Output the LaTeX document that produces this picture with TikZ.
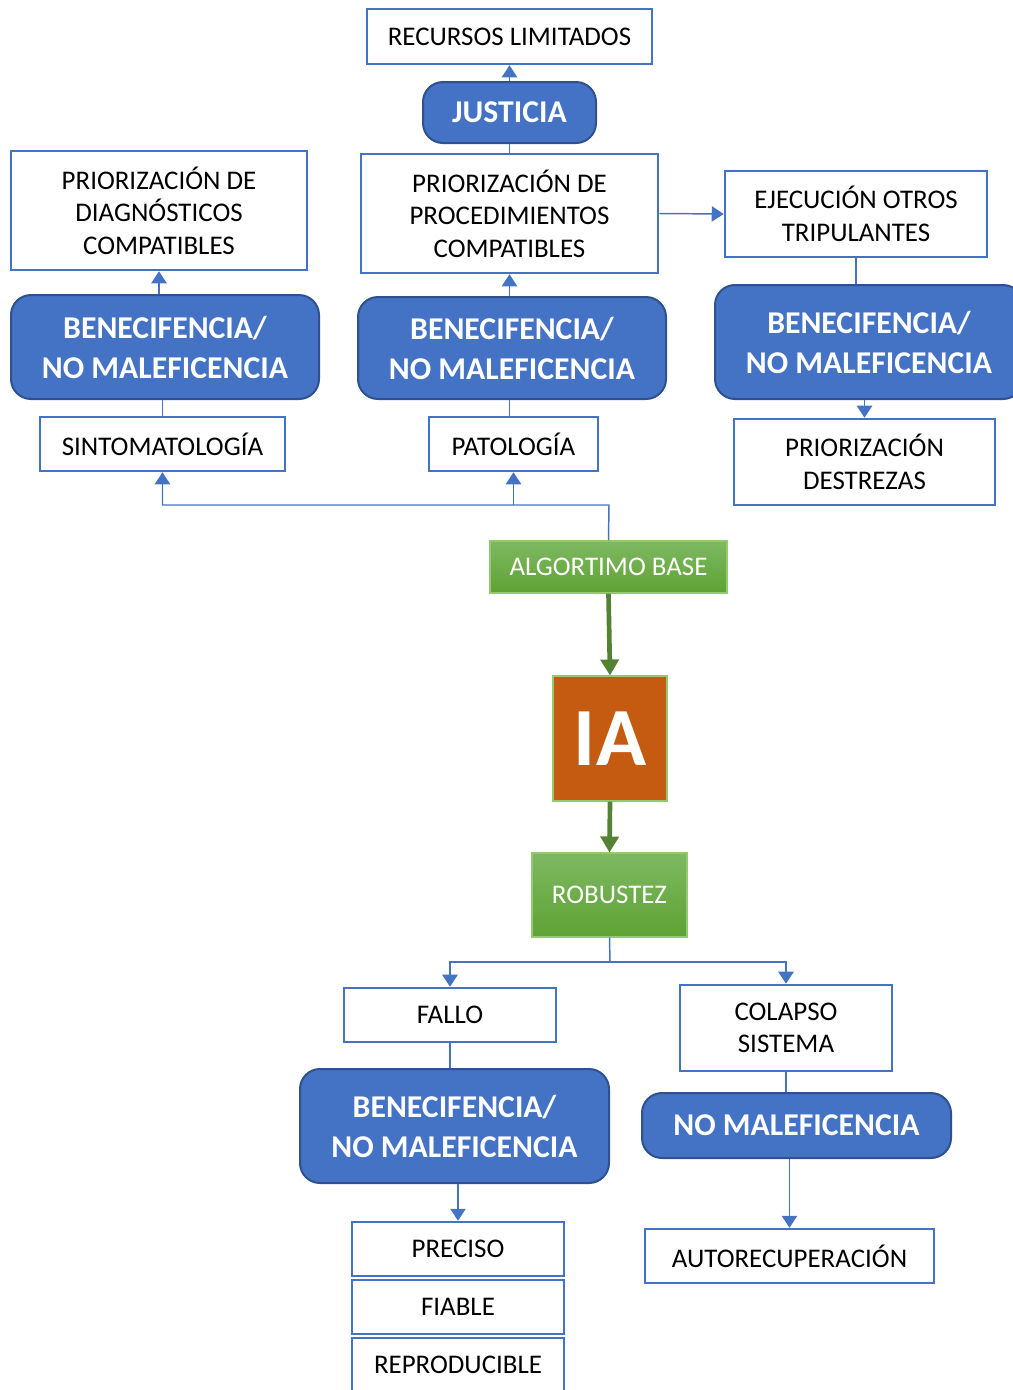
\documentclass[tikz,border=0pt]{standalone}
\usepackage{fontspec}
\setmainfont{Carlito}
\usetikzlibrary{arrows.meta,calc}
\definecolor{bl}{HTML}{4472C4}
\definecolor{bldark}{HTML}{2F528F}
\definecolor{grtop}{HTML}{7EB962}
\definecolor{grbot}{HTML}{5EA233}
\definecolor{grline}{HTML}{93C973}
\definecolor{grarrow}{HTML}{548235}
\definecolor{iaorange}{HTML}{C55A11}
\tikzset{
  wbox/.style={draw=bl, line width=1.9pt, fill=white, inner sep=0pt, align=center,
    font=\fontsize{20.2}{24.4}\selectfont},
  bbox/.style={draw=bldark, line width=1.5pt, fill=bl, rounded corners=15pt, inner sep=0pt,
    align=center, text=white, font=\fontsize{23.8}{30}\selectfont\bfseries},
  gbox/.style={draw=grline, line width=0.8pt, top color=grtop, bottom color=grbot, inner sep=0pt,
    align=center, text=white, font=\fontsize{20.2}{24.4}\selectfont},
  iabox/.style={draw=grline, line width=0.8pt, fill=iaorange, inner sep=0pt, align=center,
    text=white, font=\fontsize{62}{70}\selectfont\bfseries},
  conn/.style={draw=bl, line width=1.1pt},
  arr/.style={conn, -{Triangle[width=11.5pt,length=9pt]}},
  garr/.style={draw=grarrow, line width=3.5pt, -{Triangle[width=13.5pt,length=12pt]}},
}
\begin{document}
\begin{tikzpicture}[x=0.75pt,y=-0.75pt]
\useasboundingbox (0,0) rectangle (1013,1390);
% top section
\node[wbox, minimum width={285*0.75pt}, minimum height={55*0.75pt}] (rec) at (509.5,36.5) {RECURSOS LIMITADOS};
\node[bbox, minimum width={173*0.75pt}, minimum height={61*0.75pt}] (just) at (509.5,112.5) {JUSTICIA};
\node[wbox, minimum width={297*0.75pt}, minimum height={119*0.75pt}] (proc) at (509.5,213.5) {PRIORIZACIÓN DE\\PROCEDIMIENTOS\\COMPATIBLES};
\node[wbox, minimum width={296*0.75pt}, minimum height={119*0.75pt}] (diag) at (159,210.5) {PRIORIZACIÓN DE\\DIAGNÓSTICOS\\COMPATIBLES};
\node[bbox, minimum width={308*0.75pt}, minimum height={104*0.75pt}] (ben1) at (165,347) {BENECIFENCIA/\\NO MALEFICENCIA};
\node[bbox, minimum width={308*0.75pt}, minimum height={102*0.75pt}] (ben2) at (512,348) {BENECIFENCIA/\\NO MALEFICENCIA};
\node[wbox, minimum width={262*0.75pt}, minimum height={86*0.75pt}] (ejec) at (856,214) {EJECUCIÓN OTROS\\TRIPULANTES};
\node[bbox, minimum width={308*0.75pt}, minimum height={114*0.75pt}] (ben3) at (869,342) {BENECIFENCIA/\\NO MALEFICENCIA};
\node[wbox, minimum width={261*0.75pt}, minimum height={86*0.75pt}] (dest) at (864.5,462) {PRIORIZACIÓN\\DESTREZAS};
\node[wbox, minimum width={245*0.75pt}, minimum height={54*0.75pt}] (sint) at (162.5,444) {SINTOMATOLOGÍA};
\node[wbox, minimum width={169*0.75pt}, minimum height={54*0.75pt}] (pat) at (513.5,444) {PATOLOGÍA};
% middle
\node[gbox, minimum width={237*0.75pt}, minimum height={52*0.75pt}] (alg) at (608.5,567) {ALGORTIMO BASE};
\node[iabox, minimum width={114*0.75pt}, minimum height={125*0.75pt}] (ia) at (610,738.5) {IA};
\node[gbox, minimum width={155*0.75pt}, minimum height={84*0.75pt}] (rob) at (609.5,895) {ROBUSTEZ};
% bottom
\node[wbox, minimum width={212*0.75pt}, minimum height={54*0.75pt}] (fallo) at (450,1015) {FALLO};
\node[wbox, minimum width={212*0.75pt}, minimum height={86*0.75pt}] (colapso) at (786,1028) {COLAPSO\\SISTEMA};
\node[bbox, minimum width={309*0.75pt}, minimum height={114*0.75pt}] (ben4) at (454.5,1126) {BENECIFENCIA/\\NO MALEFICENCIA};
\node[bbox, minimum width={309*0.75pt}, minimum height={65*0.75pt}] (nomal) at (796.5,1125.5) {NO MALEFICENCIA};
\node[wbox, minimum width={212*0.75pt}, minimum height={54*0.75pt}] (prec) at (458,1249) {PRECISO};
\node[wbox, minimum width={212*0.75pt}, minimum height={54*0.75pt}] (fiab) at (458,1307) {FIABLE};
\node[wbox, minimum width={212*0.75pt}, minimum height={54*0.75pt}] (repr) at (458,1365) {REPRODUCIBLE};
\node[wbox, minimum width={289*0.75pt}, minimum height={54*0.75pt}] (auto) at (789.5,1256) {AUTORECUPERACIÓN};
% connectors top
\draw[arr] (just.north) -- (rec.south);
\draw[conn] (just.south) -- (proc.north);
\draw[arr] (diag.south |- ben1.north) -- (diag.south);
\draw[arr] (proc.south |- ben2.north) -- (proc.south);
\draw[arr] (proc.east) -- (ejec.west);
\draw[conn] (ejec.south) -- (ejec.south |- ben3.north);
\draw[arr] (dest.north |- ben3.south) -- (dest.north);
\draw[conn] (sint.north |- ben1.south) -- (sint.north);
\draw[conn] (proc.south |- ben2.south) -- (proc.south |- pat.north);
\coordinate (jn) at (609,505);
\draw[arr] (alg.north) -- (jn) -| (sint.south);
\draw[arr] (pat.south |- jn) -- (pat.south);
% green
\draw[garr] (alg.south) -- (ia.north);
\draw[garr] (ia.south) -- (rob.north);
% bottom connectors
\coordinate (jb) at (610,962);
\draw[conn] (rob.south) -- (jb);
\draw[arr] (jb) -| (fallo.north);
\draw[arr] (jb) -| (colapso.north);
\draw[conn] (fallo.south) -- (fallo.south |- ben4.north);
\draw[conn] (colapso.south) -- (colapso.south |- nomal.north);
\draw[arr] (prec.north |- ben4.south) -- (prec.north);
\draw[arr] (auto.north |- nomal.south) -- (auto.north);
\end{tikzpicture}
\end{document}
